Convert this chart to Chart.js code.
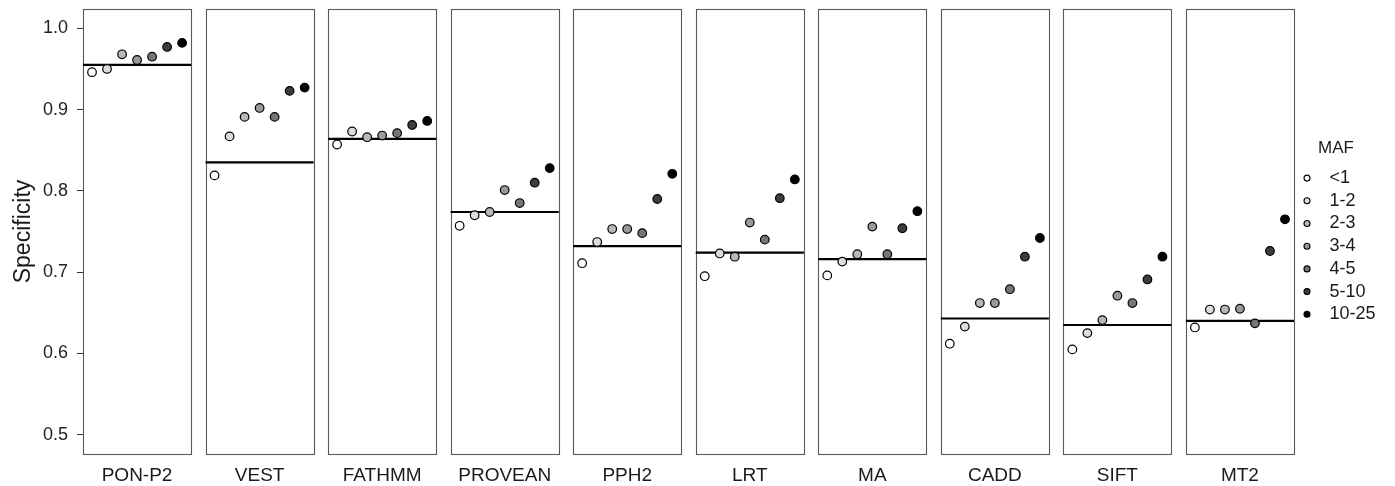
<!DOCTYPE html>
<html><head><meta charset="utf-8">
<script src="https://cdn.jsdelivr.net/npm/chart.js@4/dist/chart.umd.min.js"></script>
<style>html,body{margin:0;padding:0;background:#fff;}#wrap{width:1395px;height:486px;}</style>
</head><body><div id="wrap"><canvas id="c" width="1395" height="486"></canvas></div>
<script>
// ---- data ----
const methods = ['PON-P2','VEST','FATHMM','PROVEAN','PPH2','LRT','MA','CADD','SIFT','MT2'];
const mafClasses = ['<1','1-2','2-3','3-4','4-5','5-10','10-25'];
const mafLt1   = [0.946, 0.819, 0.857, 0.757, 0.711, 0.695, 0.696, 0.612, 0.605, 0.632];
const maf1to2  = [0.950, 0.867, 0.873, 0.770, 0.737, 0.723, 0.713, 0.633, 0.625, 0.654];
const maf2to3  = [0.968, 0.891, 0.866, 0.774, 0.753, 0.719, 0.722, 0.662, 0.641, 0.654];
const maf3to4  = [0.961, 0.902, 0.868, 0.801, 0.753, 0.761, 0.756, 0.662, 0.671, 0.655];
const maf4to5  = [0.965, 0.891, 0.871, 0.785, 0.748, 0.740, 0.722, 0.679, 0.662, 0.637];
const maf5to10 = [0.977, 0.923, 0.881, 0.810, 0.790, 0.791, 0.754, 0.719, 0.691, 0.726];
const maf10to25= [0.982, 0.927, 0.886, 0.828, 0.821, 0.814, 0.775, 0.742, 0.719, 0.765];
const overallSpecificity = [0.955, 0.835, 0.864, 0.774, 0.732, 0.724, 0.716, 0.643, 0.635, 0.640];
const yTickValues = [0.5, 0.6, 0.7, 0.8, 0.9, 1.0];
const mafColors = ['#ffffff','#dcdcdc','#b8b8b8','#9a9a9a','#767676','#3d3d3d','#000000'];

const seriesByClass = [mafLt1, maf1to2, maf2to3, maf3to4, maf4to5, maf5to10, maf10to25];

// ---- facet layout (x units) ----
const SLOTS = mafClasses.length;
const EXPAND = 0.6;
const PANEL_W = SLOTS - 1 + 2 * EXPAND;
const GAP = 0.96;
const PITCH = PANEL_W + GAP;
const panelLeft = i => i * PITCH;
const panelRight = i => i * PITCH + PANEL_W;
const slotX = (i, j) => panelLeft(i) + EXPAND + j;
const X_MAX = methods.length * PANEL_W + (methods.length - 1) * GAP;

const FONT = "'Liberation Sans', Arial, Helvetica, sans-serif";
Chart.defaults.font.family = FONT;

const pointSets = mafClasses.map((lab, k) => ({
  type: 'scatter',
  label: lab,
  data: seriesByClass[k].map((v, i) => ({x: slotX(i, k), y: v})),
  backgroundColor: mafColors[k],
  borderColor: '#000000',
  borderWidth: 1.2,
  pointRadius: 4.3,
  pointHoverRadius: 4.3,
  order: 0
}));

const lineData = [];
overallSpecificity.forEach((v, i) => {
  lineData.push({x: panelLeft(i), y: v});
  lineData.push({x: panelRight(i), y: v});
  lineData.push({x: panelRight(i) + GAP / 2, y: null});
});
const lineSet = {
  type: 'line',
  label: 'overall',
  data: lineData,
  borderColor: '#000000',
  borderWidth: 2.2,
  pointRadius: 0,
  spanGaps: false,
  fill: false,
  order: 1
};

const panelPlugin = {
  id: 'panels',
  beforeDatasetsDraw(chart) {
    const {ctx, chartArea, scales: {x}} = chart;
    ctx.save();
    ctx.strokeStyle = '#5a5a5a';
    ctx.lineWidth = 1.1;
    methods.forEach((m, i) => {
      const l = Math.round(x.getPixelForValue(panelLeft(i))) + 0.5;
      const r = Math.round(x.getPixelForValue(panelRight(i))) + 0.5;
      const t = Math.round(chartArea.top) + 0.5;
      const b = Math.round(chartArea.bottom) + 0.5;
      ctx.strokeRect(l, t, r - l, b - t);
    });
    ctx.restore();
  }
};

const legendPlugin = {
  id: 'mafLegend',
  afterDraw(chart) {
    const {ctx, chartArea} = chart;
    const mid = (chartArea.top + chartArea.bottom) / 2;
    const cx = chartArea.right + 13;
    const tx = chartArea.right + 35.5;
    ctx.save();
    ctx.fillStyle = '#1a1a1a';
    ctx.textAlign = 'left';
    ctx.textBaseline = 'middle';
    ctx.font = '17px ' + FONT;
    ctx.fillText('MAF', chartArea.right + 24, mid - 83.4);
    ctx.font = '18px ' + FONT;
    mafClasses.forEach((lab, k) => {
      const ds = chart.data.datasets[k];
      const y = mid - 53.4 + k * 22.7;
      ctx.beginPath();
      ctx.arc(cx, y, 3.0, 0, Math.PI * 2);
      ctx.fillStyle = ds.backgroundColor;
      ctx.fill();
      ctx.lineWidth = 1.1;
      ctx.strokeStyle = '#000';
      ctx.stroke();
      ctx.fillStyle = '#1a1a1a';
      ctx.fillText(ds.label, tx, y);
    });
    ctx.restore();
  }
};

new Chart(document.getElementById('c'), {
  type: 'scatter',
  data: {datasets: [...pointSets, lineSet]},
  options: {
    responsive: false,
    animation: false,
    devicePixelRatio: 1,
    layout: {padding: {top: 9, right: 101, bottom: 0, left: 0}},
    plugins: {legend: {display: false}, tooltip: {enabled: false}},
    scales: {
      x: {
        type: 'linear',
        min: 0,
        max: X_MAX,
        grid: {display: false, drawTicks: false},
        border: {display: false},
        afterBuildTicks(scale) {
          scale.ticks = methods.map((m, i) => ({value: panelLeft(i) + PANEL_W / 2}));
        },
        afterFit(scale) { scale.height = 32; scale.paddingLeft = 0; scale.paddingRight = 0; },
        ticks: {
          autoSkip: false,
          maxRotation: 0,
          minRotation: 0,
          padding: 10,
          color: '#1a1a1a',
          font: {size: 19},
          callback: (v, idx) => methods[idx]
        }
      },
      y: {
        type: 'linear',
        min: 0.4763,
        max: 1.0237,
        afterBuildTicks(scale) {
          scale.ticks = yTickValues.map(v => ({value: v}));
        },
        afterFit(scale) { scale.width = 83; scale.paddingTop = 0; scale.paddingBottom = 0; },
        grid: {display: true, drawOnChartArea: false, drawTicks: true, tickLength: 6, color: '#333333', lineWidth: 1},
        border: {display: false},
        ticks: {
          padding: 9,
          color: '#222222',
          font: {size: 18},
          callback: v => v.toFixed(1)
        },
        title: {
          display: true,
          text: 'Specificity',
          color: '#1a1a1a',
          font: {size: 23},
          padding: {top: 10, bottom: 0}
        }
      }
    }
  },
  plugins: [panelPlugin, legendPlugin]
});
</script>
</body></html>
